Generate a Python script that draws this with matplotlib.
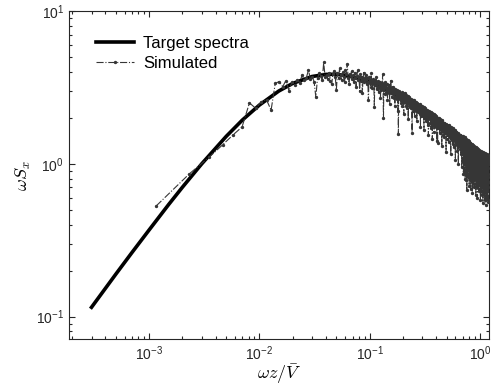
import numpy as np
import matplotlib
matplotlib.use("Agg")
import matplotlib.pyplot as plt

plt.rcParams['font.family'] = ['Liberation Sans', 'DejaVu Sans']
plt.rcParams['mathtext.default'] = 'regular'

# target spectrum
f_target = [3e-4, 5e-4, 7e-4, 1e-3, 1.5e-3, 2e-3, 3e-3, 5e-3, 7e-3, 1e-2, 1.5e-2,
            2e-2, 3e-2, 4e-2, 5e-2, 7e-2, 0.1, 0.15, 0.2, 0.3, 0.5, 0.7, 1.0, 1.2]
s_target = [0.115, 0.190, 0.263, 0.369, 0.540, 0.701, 0.999, 1.51, 1.93, 2.42, 2.99,
            3.35, 3.72, 3.84, 3.85, 3.70, 3.43, 3.00, 2.65, 2.17, 1.65, 1.36, 1.09, 0.975]

# simulated spectrum: frequency step and values
df = 0.00116
s_sim = [
    0.53, 0.86, 1.10, 1.33, 1.55, 1.74, 2.50, 2.30, 2.55, 2.62, 2.24, 3.35, 3.45, 3.19, 3.50, 3.00, 3.42, 3.25, 3.55, 3.38,
    3.80, 3.52, 3.66, 4.10, 3.58, 3.70, 3.45, 2.73, 3.62, 3.90, 3.75, 3.52, 4.60, 3.68, 3.80, 3.60, 3.95, 3.48, 3.30, 3.88,
    4.05, 3.70, 3.04, 3.92, 3.65, 4.20, 3.78, 3.55, 3.96, 3.70, 3.40, 4.10, 3.85, 4.50, 3.62, 3.30, 3.88, 3.75, 4.05, 3.58,
    3.80, 3.45, 3.95, 3.62, 3.20, 3.75, 4.10, 3.55, 3.68, 3.00, 3.85, 3.50, 3.72, 2.90, 3.60, 3.95, 3.40, 3.66, 3.52, 3.78,
    3.30, 3.62, 3.45, 2.60, 3.70, 3.38, 3.55, 3.20, 3.90, 3.42, 3.15, 3.60, 3.35, 3.48, 2.35, 3.55, 3.25, 3.40, 3.68, 3.10,
    3.35, 3.20, 3.50, 2.95, 3.30, 3.15, 3.42, 2.70, 3.28, 3.05, 3.38, 3.20, 3.85, 3.10, 2.00, 3.32, 3.18, 2.85, 3.40, 3.12,
    3.20, 2.95, 3.30, 3.05, 2.60, 3.15, 3.00, 3.25, 2.88, 3.10, 2.45, 3.18, 2.98, 3.50, 2.90, 3.05, 2.75, 3.12, 2.95, 3.20,
    2.85, 3.05, 2.70, 3.00, 2.88, 2.40, 3.10, 2.92, 2.78, 3.02, 2.65, 2.95, 2.80, 3.05, 2.20, 2.90, 1.56, 2.85, 2.70, 2.98,
    2.80, 2.65, 2.92, 2.72, 2.50, 2.85, 2.60, 2.95, 2.70, 2.40, 2.82, 2.68, 2.90, 2.55, 2.75, 2.10, 2.80, 2.62, 2.88, 2.70,
    2.55, 2.75, 2.62, 2.40, 2.80, 2.58, 2.70, 2.30, 2.65, 2.52, 2.78, 2.60, 1.95, 2.68, 2.50, 2.72, 2.45, 2.60, 2.35, 2.66,
    2.55, 2.42, 2.65, 2.48, 2.30, 2.58, 2.40, 2.62, 1.60, 2.50, 2.38, 2.60, 2.45, 2.22, 2.55, 2.40, 2.62, 2.35, 2.50, 2.05,
    2.45, 2.30, 2.52, 2.38, 2.20, 2.48, 2.35, 2.55, 2.28, 2.42, 1.90, 2.45, 2.32, 2.50, 2.25, 2.40, 2.18, 2.46, 2.30, 2.38,
    2.32, 2.20, 2.40, 2.28, 2.10, 2.35, 2.22, 2.45, 1.75, 2.30, 2.18, 2.38, 2.25, 2.05, 2.32, 2.20, 2.40, 2.15, 2.28, 2.22,
    2.25, 2.12, 2.30, 2.05, 2.20, 2.35, 2.10, 1.65, 2.22, 2.15, 2.28, 2.00, 2.18, 2.32, 2.08, 2.20, 1.90, 2.25, 2.12, 2.18,
    2.15, 2.02, 2.22, 2.10, 1.95, 2.18, 2.05, 2.25, 1.80, 2.12, 2.00, 2.20, 2.08, 1.55, 2.15, 2.04, 2.22, 1.98, 2.10, 2.06,
    2.12, 1.98, 2.15, 2.02, 1.85, 2.10, 1.96, 2.18, 2.00, 1.70, 2.08, 1.95, 2.12, 2.00, 1.88, 2.14, 1.92, 2.05, 1.45, 2.02,
    2.05, 1.90, 2.10, 1.95, 1.80, 2.02, 1.92, 2.12, 1.88, 2.00, 1.62, 1.98, 1.90, 2.08, 1.85, 1.96, 2.04, 1.78, 1.95, 1.90,
    1.98, 1.85, 2.02, 1.90, 1.75, 1.96, 1.88, 2.05, 1.40, 1.92, 1.84, 2.00, 1.88, 1.70, 1.95, 1.37, 1.90, 1.98, 1.82, 1.88,
    1.92, 1.80, 1.95, 1.85, 1.70, 1.90, 1.82, 1.98, 1.78, 1.88, 1.60, 1.92, 1.84, 1.76, 1.95, 1.80, 1.88, 1.72, 1.86, 1.82,
    1.85, 1.74, 1.90, 1.80, 1.66, 1.84, 1.76, 1.92, 1.30, 1.82, 1.75, 1.88, 1.78, 1.68, 1.86, 1.72, 1.80, 1.55, 1.84, 1.76,
    1.80, 1.70, 1.84, 1.75, 1.62, 1.78, 1.72, 1.86, 1.68, 1.80, 1.50, 1.76, 1.70, 1.82, 1.65, 1.78, 1.73, 1.60, 1.80, 1.72,
    1.76, 1.66, 1.80, 1.70, 1.20, 1.74, 1.68, 1.82, 1.64, 1.75, 1.58, 1.78, 1.70, 1.62, 1.80, 1.67, 1.74, 1.45, 1.76, 1.69,
    1.72, 1.62, 1.76, 1.66, 1.55, 1.70, 1.64, 1.78, 1.60, 1.72, 1.38, 1.68, 1.62, 1.75, 1.58, 1.70, 1.65, 1.52, 1.73, 1.64,
    1.68, 1.58, 1.72, 1.62, 1.50, 1.66, 1.60, 1.74, 1.15, 1.65, 1.58, 1.70, 1.62, 1.54, 1.68, 1.60, 1.66, 1.42, 1.70, 1.61,
    1.64, 1.55, 1.68, 1.58, 1.46, 1.62, 1.56, 1.70, 1.52, 1.63, 1.35, 1.66, 1.58, 1.50, 1.64, 1.55, 1.60, 1.28, 1.65, 1.57,
    1.60, 1.50, 1.64, 1.54, 1.44, 1.58, 1.52, 1.66, 1.48, 1.60, 1.40, 1.62, 1.55, 1.47, 1.60, 1.05, 1.58, 1.50, 1.62, 1.53,
    1.56, 1.47, 1.60, 1.50, 1.40, 1.55, 1.48, 1.62, 1.45, 1.56, 1.32, 1.58, 1.50, 1.43, 1.57, 1.48, 1.54, 1.22, 1.58, 1.49,
    1.52, 1.44, 1.56, 1.47, 1.36, 1.51, 1.45, 1.58, 1.00, 1.52, 1.43, 1.55, 1.47, 1.38, 1.53, 1.44, 1.50, 1.30, 1.54, 1.46,
    1.49, 1.40, 1.53, 1.44, 1.34, 1.48, 1.42, 1.55, 1.38, 1.49, 1.25, 1.51, 1.43, 1.36, 1.50, 1.41, 1.47, 1.15, 1.50, 1.42,
    1.46, 1.38, 1.50, 1.41, 1.30, 1.45, 1.39, 1.52, 0.95, 1.46, 1.37, 1.48, 1.40, 1.32, 1.47, 1.38, 1.44, 1.22, 1.47, 1.39,
    1.45, 1.37, 1.50, 1.40, 1.02, 1.44, 1.38, 1.52, 1.34, 1.45, 0.86, 1.47, 1.39, 1.31, 1.46, 1.36, 1.43, 0.90, 1.46, 1.38,
    1.42, 1.34, 1.47, 1.37, 1.12, 1.41, 1.35, 1.49, 1.30, 1.42, 0.80, 1.44, 1.36, 1.28, 1.43, 1.34, 1.40, 1.00, 1.43, 1.35,
    1.40, 1.31, 1.44, 1.34, 0.95, 1.38, 1.32, 1.46, 0.78, 1.39, 1.30, 1.41, 1.33, 1.15, 1.40, 0.67, 1.37, 1.29, 1.42, 1.32,
    1.37, 1.29, 1.41, 1.31, 1.05, 1.35, 1.29, 1.43, 1.24, 1.36, 0.82, 1.38, 1.30, 1.22, 1.37, 1.28, 1.34, 0.92, 1.38, 1.29,
    1.34, 1.26, 1.38, 1.29, 0.98, 1.32, 1.27, 1.40, 0.72, 1.33, 1.25, 1.35, 1.28, 1.10, 1.34, 0.85, 1.32, 1.24, 1.36, 1.27,
    1.32, 1.24, 1.36, 1.27, 1.08, 1.30, 1.24, 1.37, 1.19, 1.31, 0.68, 1.33, 1.26, 0.95, 1.32, 1.23, 1.29, 0.80, 1.33, 1.25,
    1.30, 1.22, 1.33, 1.24, 0.90, 1.28, 1.22, 1.35, 0.76, 1.29, 1.20, 1.31, 1.23, 1.05, 1.30, 0.64, 1.27, 1.19, 1.31, 1.23,
    1.28, 1.20, 1.31, 1.22, 1.00, 1.26, 1.20, 1.33, 1.15, 1.27, 0.82, 1.29, 1.21, 0.92, 1.28, 1.19, 1.25, 0.70, 1.29, 1.21,
    1.26, 1.18, 1.29, 1.20, 0.88, 1.24, 1.18, 1.31, 0.74, 1.25, 1.17, 1.27, 1.19, 1.02, 1.26, 0.86, 1.23, 1.15, 1.27, 1.19,
    1.24, 1.16, 1.27, 1.18, 0.96, 1.22, 1.16, 1.29, 1.12, 1.23, 0.62, 1.25, 1.17, 0.90, 1.24, 1.15, 1.21, 0.78, 1.25, 1.17,
    1.22, 1.14, 1.25, 1.16, 0.85, 1.20, 1.14, 1.27, 0.70, 1.21, 1.13, 1.23, 1.15, 0.98, 1.22, 0.60, 1.19, 1.11, 1.23, 1.15,
    1.20, 1.12, 1.23, 1.14, 0.94, 1.18, 1.12, 1.25, 1.08, 1.19, 0.76, 1.21, 1.13, 0.86, 1.20, 1.11, 1.17, 0.66, 1.21, 1.13,
    1.18, 1.10, 1.21, 1.12, 0.82, 1.16, 1.10, 1.23, 0.68, 1.17, 1.09, 1.19, 1.11, 0.95, 1.18, 0.80, 1.15, 1.07, 1.19, 1.11,
    1.17, 1.09, 1.20, 1.11, 0.90, 1.15, 1.09, 1.22, 1.04, 1.16, 0.58, 1.18, 1.10, 0.84, 1.17, 1.08, 1.14, 0.74, 1.18, 1.10,
    1.16, 1.08, 1.19, 1.10, 0.80, 1.14, 1.08, 1.21, 0.66, 1.15, 1.07, 1.17, 1.09, 0.92, 1.16, 0.62, 1.13, 1.05, 1.17, 1.09,
    1.15, 1.07, 1.18, 1.09, 0.88, 1.13, 1.07, 1.20, 1.01, 1.14, 0.72, 1.16, 1.08, 0.82, 1.15, 1.06, 1.12, 0.55, 1.16, 1.08,
    1.14, 1.06, 1.17, 1.08, 0.78, 1.12, 1.06, 1.19, 0.64, 1.13, 1.05, 1.15, 1.07, 0.90, 1.14, 0.80, 1.11, 1.03, 1.15, 1.07,
    1.13, 1.05, 1.16, 1.07, 0.86, 1.11, 1.05, 1.18, 0.98, 1.12, 0.58, 1.14, 1.06, 0.80, 1.13, 1.04, 1.10, 0.68, 1.14, 1.06,
    1.12, 1.04, 1.15, 1.06, 0.76, 1.10, 1.04, 1.17, 0.64, 1.11, 1.03, 1.13, 1.05, 0.88, 1.12, 0.54, 1.09, 1.01, 1.13, 1.05,
    1.11, 1.03, 1.14, 1.05, 0.84, 1.09, 1.03, 1.16, 0.96, 1.10, 0.74, 1.12, 1.04, 0.78, 1.11, 1.02, 1.08, 0.60, 1.12, 1.04,
    1.10, 1.02, 1.13, 1.04, 0.74, 1.08, 1.02, 1.15, 0.66, 1.09, 1.01, 1.11, 1.03, 0.86, 1.10, 0.56, 1.07, 0.99, 1.11, 1.03,
    1.09, 1.01, 1.12, 1.03, 0.82, 1.07, 1.01, 1.14, 0.94, 1.08, 0.70, 1.10, 1.02, 0.76, 1.09, 1.00, 1.06, 0.58, 1.10, 1.02,
]
f_sim = df * np.arange(1, len(s_sim) + 1)

fig = plt.figure(figsize=(4.92, 3.88), dpi=100)
ax = fig.add_axes([0.140, 0.1255, 0.854, 0.8465])

ax.loglog(f_target, s_target, color='k', lw=2.6, label='Target spectra', zorder=2)
ax.loglog(f_sim, s_sim, color='#363636', ls='-.', lw=0.8, marker='.', ms=2.8,
          label='Simulated', zorder=3)

ax.set_xlim(1.87e-4, 1.21)
ax.set_ylim(0.071, 10)

ax.tick_params(which='both', direction='in', top=True, right=True,
               labelsize=10, colors='#262626', width=0.8)
ax.tick_params(which='major', length=4)
ax.tick_params(which='minor', length=2.5)
for sp in ax.spines.values():
    sp.set_color('#262626')
    sp.set_linewidth(0.8)

ax.set_xlabel(r'$\mathit{\omega z/\bar{V}}$', fontsize=13, math_fontfamily='cm', labelpad=-0.5)
ax.set_ylabel(r'$\mathit{\omega S_x}$', fontsize=13, math_fontfamily='cm', labelpad=2)

ax.legend(loc='upper left', bbox_to_anchor=(0.048, 0.945), borderaxespad=0,
          frameon=False, fontsize=12, handlelength=2.3, handletextpad=0.55,
          labelspacing=0.3)

fig.savefig('out.png', dpi=100)
